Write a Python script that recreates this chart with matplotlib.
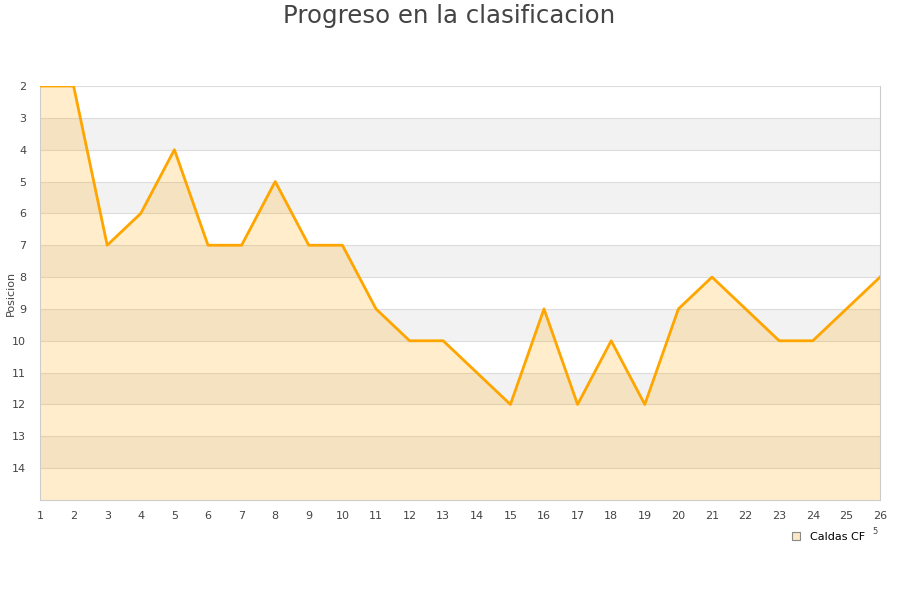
import matplotlib
matplotlib.use("Agg")
import matplotlib.pyplot as plt
from matplotlib.lines import Line2D

jornadas = list(range(1, 27))
posiciones = [2, 2, 7, 6, 4, 7, 7, 5, 7, 7, 9, 10, 10, 11, 12, 9, 12, 10, 12, 9, 8, 9, 10, 10, 9, 8]
y_ticks = list(range(2, 15))
equipo = "Caldas CF"
titulo = "Progreso en la clasificacion"

fig = plt.figure(figsize=(9, 6), dpi=100)
ax = fig.add_axes([40/900, 1-500/600, 840/900, 414/600])

# alternating bands
for b in range(3, 15, 2):
    ax.axhspan(b, b + 1, color="#f2f2f2", zorder=0, lw=0)
for t in range(2, 15):
    ax.axhline(t, color="#dddddd", lw=0.8, zorder=1)

ax.fill_between(jornadas, posiciones, 15, color="#ffa500", alpha=0.2, lw=0, zorder=2)
ax.plot(jornadas, posiciones, color="#ffa500", lw=2.0, zorder=3)

ax.set_xlim(1, 26)
ax.set_ylim(15, 2)
ax.set_xticks(jornadas)
ax.set_yticks(y_ticks)
ax.tick_params(length=0, labelsize=8, colors="#444444", pad=8)
ax.tick_params(axis="y", pad=10)
for s in ax.spines.values():
    s.set_color("#cccccc")
    s.set_linewidth(0.8)
ax.spines["top"].set_visible(False)

fig.text(11/900, 1-293/600, "Posicion", rotation=90, fontsize=8, color="#444444",
         ha="center", va="center")
fig.text(449/900, 1-16/600, titulo, ha="center", va="center", fontsize=17.6, color="#444444")

handle = Line2D([], [], marker="s", linestyle="none", markersize=6,
                markerfacecolor="#fbe8c6", markeredgecolor="#888888", markeredgewidth=0.8)
fig.legend([handle], [equipo], loc="center", bbox_to_anchor=(825/900, 1-537/600),
           frameon=False, fontsize=8, handletextpad=0.3, borderpad=0)
fig.text(875/900, 1-532/600, "5", fontsize=6, color="#444444", ha="center", va="center")

fig.savefig("out.png", dpi=100, facecolor="white")
